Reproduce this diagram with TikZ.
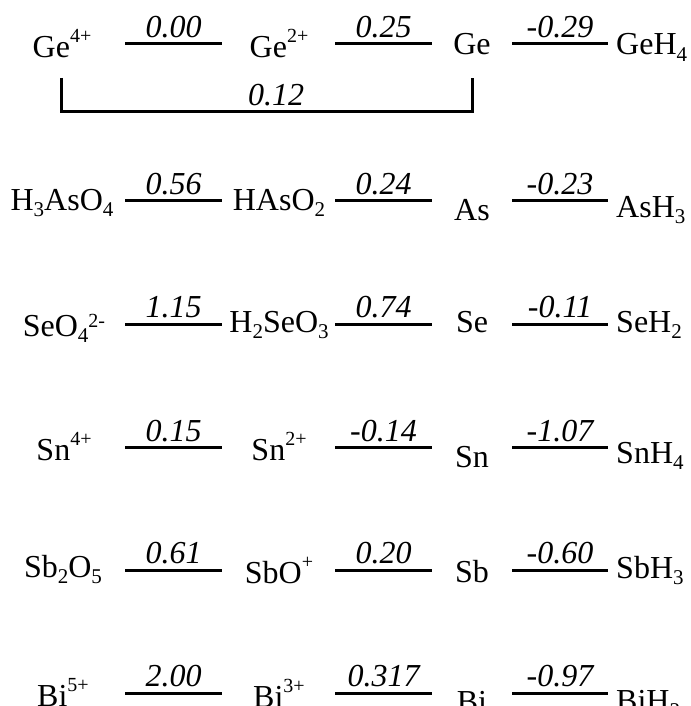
\documentclass[tikz,border=0pt]{standalone}
\usepackage{fontspec}
\setmainfont{Liberation Serif}
\usepackage{tikz}
\usetikzlibrary{positioning}
\newcommand{\dn}[1]{\raisebox{-6.5pt}{\fontsize{21}{21}\selectfont #1}}
\newcommand{\up}[2][15pt]{\raisebox{#1}{\fontsize{20}{20}\selectfont #2}}

\begin{document}
\begin{tikzpicture}[x=1pt, y=-1pt,
    species/.style={anchor=base, inner sep=0pt, font=\fontsize{32}{36}\selectfont},
    lastsp/.style={species, anchor=base west},
    level/.style={line width=3pt},
    pot/.style={anchor=base, inner sep=0pt, yshift=6.5pt, font=\fontsize{32}{36}\selectfont\itshape}]
    \useasboundingbox (0,0) rectangle (690,706);

    % Germanium
    \node[species] (ge4) at (62,58) {Ge\up{4+}};
    \node[species] (ge2) at (279,58) {Ge\up{2+}};
    \node[species] (ge) at (472,55) {Ge};
    \node[lastsp] (geh) at (616,55) {GeH\dn{4}};

    % Arsenic
    \node[species] (h3aso4) at (62,210) {H\dn{3}AsO\dn{4}};
    \node[species] (haso2) at (279,210) {HAsO\dn{2}};
    \node[species] (as) at (472,220) {As};
    \node[lastsp] (ash) at (616,217) {AsH\dn{3}};

    % Selenium
    \node[species] (seo4) at (64,336) {SeO\dn{4}\up[9pt]{2-}};
    \node[species] (h2seo3) at (279,332) {H\dn{2}SeO\dn{3}};
    \node[species] (se) at (472,332) {Se};
    \node[lastsp] (seh) at (616,332) {SeH\dn{2}};

    % Tin
    \node[species] (sn4) at (64,460) {Sn\up{4+}};
    \node[species] (sn2) at (279,460) {Sn\up{2+}};
    \node[species] (sn) at (472,467) {Sn};
    \node[lastsp] (snh) at (616,463) {SnH\dn{4}};

    % Antimony
    \node[species] (sb2o5) at (63,577) {Sb\dn{2}O\dn{5}};
    \node[species] (sbo) at (279,583) {SbO\up{+}};
    \node[species] (sb) at (472,582) {Sb};
    \node[lastsp] (sbh) at (616,578) {SbH\dn{3}};

    % Bismuth
    \node[species] (bi5) at (63,706) {Bi\up{5+}};
    \node[species] (bi3) at (279,707) {Bi\up{3+}};
    \node[species] (bi) at (472,712) {Bi};
    \node[lastsp] (bih) at (616,711) {BiH\dn{3}};

    % Potential lines with their values
    \foreach \el/\y/\pa/\pb/\pc in {ge/44/0.00/0.25/-0.29, as/200.7/0.56/0.24/-0.23,
        se/324.3/1.15/0.74/-0.11, sn/447.7/0.15/-0.14/-1.07,
        sb/570/0.61/0.20/-0.60, bi/693/2.00/0.317/-0.97} {
        \coordinate (\el-a) at (125,\y); \coordinate (\el-b) at (222,\y);
        \coordinate (\el-c) at (335,\y); \coordinate (\el-d) at (432,\y);
        \coordinate (\el-e) at (512,\y); \coordinate (\el-f) at (608,\y);
        \draw[level] (\el-a) -- node[pot] {\pa} (\el-b);
        \draw[level] (\el-c) -- node[pot] {\pb} (\el-d);
        \draw[level] (\el-e) -- node[pot] {\pc} (\el-f);
    }

    % Bracket Ge(4+) to Ge
    \coordinate (brl) at (61,78);
    \coordinate (brr) at (472,78);
    \draw[level] (brl) -- ++(0,34) -| node[pot, pos=0.25, xshift=9.5pt] {0.12} (brr);
\end{tikzpicture}
\end{document}
